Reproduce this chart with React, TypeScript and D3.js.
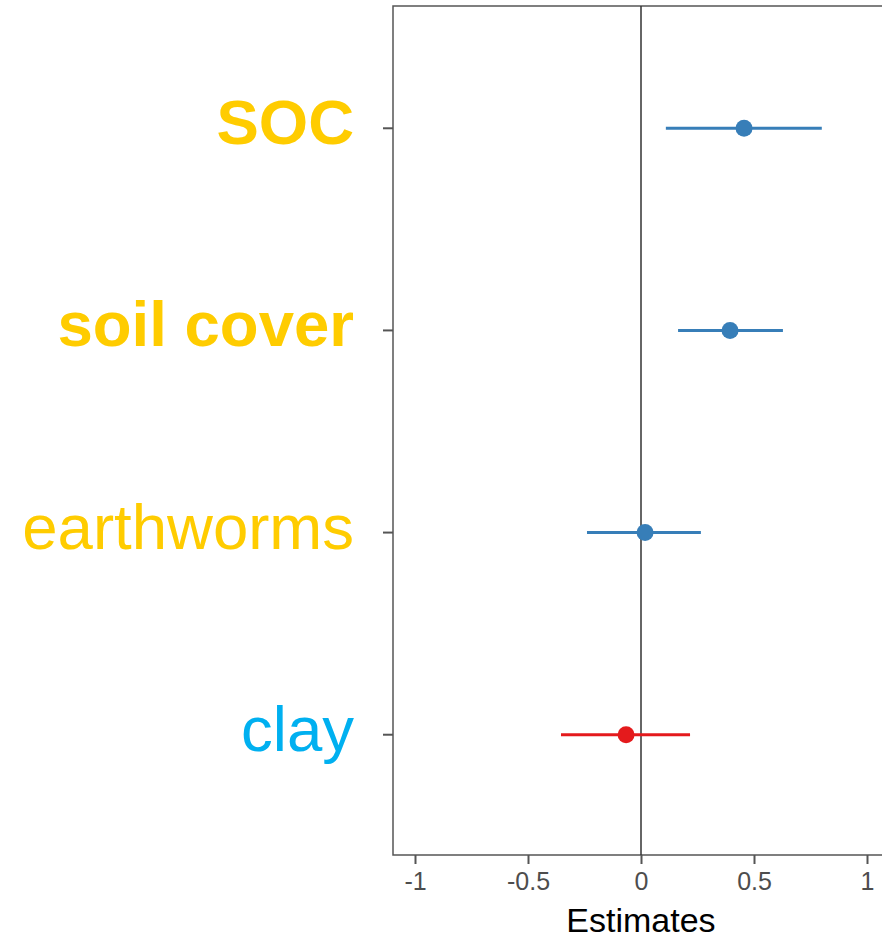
import React, { useEffect, useRef } from "react";
import * as d3 from "d3";

// terms, top to bottom
const terms = ["SOC", "soil cover", "earthworms", "clay"];
const estimates = [0.456, 0.394, 0.018, -0.066];
const ciLow = [0.11, 0.164, -0.239, -0.354];
const ciHigh = [0.80, 0.628, 0.265, 0.217];
const positive = [true, true, true, false];
const labelColor = ["#FFCC00", "#FFCC00", "#FFCC00", "#00B0F0"];
const labelBold = [true, true, false, false];
const xTicks = [-1, -0.5, 0, 0.5, 1];

const W = 882, H = 938;

export default function App() {
  const ref = useRef<SVGSVGElement>(null);

  useEffect(() => {
    const svg = d3.select(ref.current);
    svg.selectAll("*").remove();

    const top = 6, bottom = 855, left = 393, right = 895;

    var x = d3.scaleLinear().domain([-1, 1]).range([415, 867]);
    var y = d3.scalePoint<string>().domain(terms).range([top, bottom]).padding(0.6);

    // panel
    svg.append("rect")
      .attr("x", left).attr("y", top)
      .attr("width", right - left).attr("height", bottom - top)
      .attr("fill", "none").attr("stroke", "#555").attr("stroke-width", 1.5);

    // zero line
    svg.append("line")
      .attr("x1", x(0)).attr("x2", x(0))
      .attr("y1", top).attr("y2", bottom)
      .attr("stroke", "#333").attr("stroke-width", 1.5);

    // x axis
    const xAxis = d3.axisBottom(x).tickValues(xTicks).tickSize(9).tickPadding(8)
      .tickFormat((d) => String(d));
    const gx = svg.append("g").attr("transform", "translate(0," + bottom + ")").call(xAxis);
    gx.select(".domain").remove();
    gx.selectAll("line").attr("stroke", "#555").attr("stroke-width", 2);
    gx.selectAll("text").attr("fill", "#4D4D4D")
      .style("font-family", "Liberation Sans, Arial, sans-serif").style("font-size", "25px");

    svg.append("text")
      .attr("x", x(0)).attr("y", 932)
      .attr("text-anchor", "middle")
      .style("font-family", "Liberation Sans, Arial, sans-serif").style("font-size", "34px")
      .attr("fill", "#000").text("Estimates");

    // y ticks, labels and estimates
    const rows = svg.append("g");
    terms.forEach((t, i) => {
      const yy = y(t)! + 1;
      rows.append("line")
        .attr("x1", left - 10).attr("x2", left)
        .attr("y1", yy).attr("y2", yy)
        .attr("stroke", "#555").attr("stroke-width", 2);
      rows.append("text")
        .attr("x", 354).attr("y", yy + 16)
        .attr("text-anchor", "end")
        .style("font-family", "Liberation Sans, Arial, sans-serif").style("font-size", "63.5px")
        .style("font-weight", labelBold[i] ? "bold" : "normal")
        .attr("fill", labelColor[i]).text(t);

      const col = positive[i] ? "#377EB8" : "#E41A1C";
      rows.append("line")
        .attr("x1", x(ciLow[i])).attr("x2", x(ciHigh[i]))
        .attr("y1", yy).attr("y2", yy)
        .attr("stroke", col).attr("stroke-width", 3);
      rows.append("circle")
        .attr("cx", x(estimates[i])).attr("cy", yy).attr("r", 8.5)
        .attr("fill", col);
    });
  }, []);

  return (
    <svg ref={ref} width={W} height={H}
      style={{ position: "absolute", left: 0, top: 0, background: "#fff" }} />
  );
}
